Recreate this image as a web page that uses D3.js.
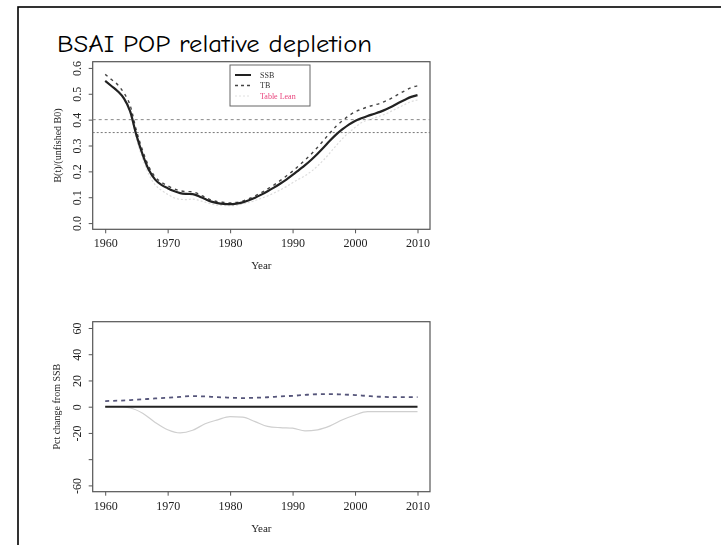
<!DOCTYPE html>
<html>
<head>
<meta charset="utf-8">
<script src="https://cdn.jsdelivr.net/npm/d3@7"></script>
<style>
  html, body { margin: 0; padding: 0; background: #fff; }
  svg { display: block; }
</style>
</head>
<body>
<svg id="chart" width="721" height="545"></svg>
<script>
// ---------------- DATA ----------------
const years = d3.range(1960, 2011);
const ssb = [0.550,0.530,0.510,0.482,0.432,0.340,0.265,0.205,0.168,0.148,
             0.135,0.124,0.116,0.113,0.112,0.104,0.093,0.083,0.077,0.074,
             0.073,0.075,0.080,0.088,0.098,0.110,0.123,0.137,0.152,0.168,
             0.186,0.205,0.224,0.245,0.268,0.293,0.319,0.343,0.363,0.381,
             0.395,0.405,0.414,0.422,0.430,0.440,0.452,0.465,0.477,0.488,0.495];
const tb  = [0.575,0.555,0.535,0.503,0.455,0.358,0.280,0.218,0.179,0.158,
             0.144,0.133,0.125,0.122,0.121,0.112,0.100,0.089,0.083,0.080,
             0.078,0.080,0.085,0.094,0.105,0.118,0.132,0.147,0.164,0.182,
             0.201,0.222,0.244,0.267,0.293,0.321,0.349,0.375,0.396,0.415,
             0.430,0.440,0.449,0.456,0.463,0.473,0.485,0.499,0.512,0.524,0.531];
const third = [0.550,0.530,0.508,0.478,0.424,0.325,0.249,0.188,0.148,0.127,
             0.111,0.098,0.092,0.091,0.093,0.088,0.081,0.074,0.069,0.068,
             0.067,0.069,0.074,0.080,0.087,0.096,0.105,0.116,0.128,0.141,
             0.156,0.170,0.183,0.200,0.221,0.245,0.272,0.300,0.327,0.350,
             0.370,0.388,0.398,0.406,0.414,0.423,0.435,0.447,0.459,0.470,0.476];
const refLines = [0.40, 0.35];

const pctYears = [1960,1962,1964,1966,1968,1970,1972,1974,1976,1978,1980,1982,1984,
                  1986,1988,1990,1992,1994,1996,1998,2000,2002,2004,2006,2008,2010];
const pctTB    = [4.3,4.6,5.0,5.6,6.3,6.8,7.5,8.1,7.8,7.3,6.9,6.6,6.8,
                  7.2,7.8,8.3,9.0,9.5,9.6,9.3,8.9,8.2,7.6,7.3,7.3,7.3];
const pctThird = [0,0,-1,-5,-12,-17.6,-20,-18,-13,-10,-7.6,-8,-11.4,
                  -15,-16,-16.4,-18.4,-17.6,-14.6,-10,-6.3,-3.8,-3.8,-3.8,-3.8,-3.8];
const pctSSB   = pctYears.map(() => 0);

const xTicks = [1960,1970,1980,1990,2000,2010];
const yTicksTop = [0.0,0.1,0.2,0.3,0.4,0.5,0.6];
const yTicksBot = [-60,-40,-20,0,20,40,60];
const yLabelsBot = {"-60":"-60","-20":"-20","0":"0","20":"20","40":"40","60":"60"};

const legendLabels = ["SSB","TB","Table Lean"];
const titleText = "BSAI POP relative depletion";

// ---------------- DRAW ----------------
const svg = d3.select("#chart");
svg.append("defs").append("filter").attr("id","soft")
   .append("feGaussianBlur").attr("stdDeviation",0.4);

// outer border
svg.append("rect").attr("x",18).attr("y",7).attr("width",760).attr("height",600)
   .attr("fill","none").attr("stroke","#000").attr("stroke-width",1.6);

// title
svg.append("text").attr("x",57).attr("y",52)
   .attr("font-family","'Comic Sans MS','Comic Neue','DejaVu Sans',sans-serif")
   .attr("font-size",25).attr("fill","#000")
   .attr("textLength",315).attr("lengthAdjust","spacingAndGlyphs")
   .text(titleText);

const g = svg.append("g").attr("filter","url(#soft)");
const L = 92.7, R = 430;
const x = d3.scaleLinear().domain([1958, 2012]).range([L, R]);

function panel(top, bottom, yDomain, yTicks, yFmt, ylab, yTitleX) {
  const y = d3.scaleLinear().domain(yDomain).range([bottom, top]);
  const p = g.append("g");
  p.append("rect").attr("x",L).attr("y",top).attr("width",R-L).attr("height",bottom-top)
   .attr("fill","#fff").attr("stroke","#555").attr("stroke-width",1.2);
  // x axis
  const xa = p.append("g").attr("transform",`translate(0,${bottom})`)
    .call(d3.axisBottom(x).tickValues(xTicks).tickSize(4).tickSizeOuter(0).tickFormat(d3.format("d")));
  xa.select(".domain").remove();
  xa.selectAll("line").attr("stroke","#555");
  xa.selectAll("text").attr("font-family","'Liberation Serif',serif").attr("font-size",12)
    .attr("fill","#222").attr("dy","0.35em").attr("y",14);
  // y axis
  const ya = p.append("g").attr("transform",`translate(${L},0)`)
    .call(d3.axisLeft(y).tickValues(yTicks).tickSize(4).tickSizeOuter(0).tickFormat(yFmt));
  ya.select(".domain").remove();
  ya.selectAll("line").attr("stroke","#555");
  ya.selectAll(".tick text").attr("font-family","'Liberation Serif',serif").attr("font-size",12)
    .attr("fill","#222").attr("text-anchor","middle").attr("x",0).attr("y",0).attr("dy",0)
    .attr("dominant-baseline","central")
    .attr("transform","translate(-16,0) rotate(-90)");
  // labels
  p.append("text").attr("x",(x(1960)+x(2010))/2).attr("y",bottom+40)
   .attr("text-anchor","middle").attr("font-family","'Liberation Serif',serif")
   .attr("font-size",11).attr("fill","#222").text("Year");
  p.append("text").attr("transform",`translate(${yTitleX},${(top+bottom)/2}) rotate(-90)`)
   .attr("text-anchor","middle").attr("dominant-baseline","central")
   .attr("font-family","'Liberation Serif',serif")
   .attr("font-size",10).attr("fill","#222").text(ylab);
  return {p, y};
}

// ---- upper panel
const up = panel(61.7, 229.3, [-0.024, 0.624], yTicksTop, d3.format(".1f"), "B(t)/(unfished B0)", 57);
const ly = d3.line().x(d => x(d[0])).y(d => up.y(d[1])).curve(d3.curveMonotoneX);
up.p.append("g").selectAll("line").data(refLines).join("line")
  .attr("x1",L).attr("x2",R).attr("y1",d=>up.y(d)).attr("y2",d=>up.y(d))
  .attr("stroke",(d,i)=> i===0 ? "#888" : "#777").attr("stroke-width",1)
  .attr("stroke-dasharray",(d,i)=> i===0 ? "3,3" : "2,2");
up.p.append("path").attr("d", ly(years.map((yr,i)=>[yr,third[i]])))
  .attr("fill","none").attr("stroke","#dcdcdc").attr("stroke-width",1.2).attr("stroke-dasharray","2,2");
up.p.append("path").attr("d", ly(years.map((yr,i)=>[yr,tb[i]])))
  .attr("fill","none").attr("stroke","#444").attr("stroke-width",1.4).attr("stroke-dasharray","3,4");
up.p.append("path").attr("d", ly(years.map((yr,i)=>[yr,ssb[i]])))
  .attr("fill","none").attr("stroke","#222").attr("stroke-width",2.2);

// legend
const lg = up.p.append("g");
lg.append("rect").attr("x",230).attr("y",65).attr("width",80).attr("height",41)
  .attr("fill","#fff").attr("stroke","#666").attr("stroke-width",1);
const legStyles = [
  {stroke:"#222", dash:null, w:2, tc:"#333"},
  {stroke:"#444", dash:"3,3", w:1.4, tc:"#333"},
  {stroke:"#e0e0e0", dash:"2,2", w:1, tc:"#e8457d"}
];
legendLabels.forEach((lab,i) => {
  const yy = 75 + i*10.5;
  lg.append("line").attr("x1",235).attr("x2",251).attr("y1",yy).attr("y2",yy)
    .attr("stroke",legStyles[i].stroke).attr("stroke-width",legStyles[i].w)
    .attr("stroke-dasharray",legStyles[i].dash);
  lg.append("text").attr("x",260).attr("y",yy).attr("dominant-baseline","central")
    .attr("font-family","'Liberation Serif',serif").attr("font-size",8)
    .attr("fill",legStyles[i].tc).text(lab);
});

// ---- lower panel
const lo = panel(321.7, 491.7, [-64.8, 64.8], yTicksBot, d => yLabelsBot[String(d)] || "", "Pct change from SSB", 56);
const ll = d3.line().x(d => x(d[0])).y(d => lo.y(d[1])).curve(d3.curveMonotoneX);
lo.p.append("path").attr("d", ll(pctYears.map((yr,i)=>[yr,pctThird[i]])))
  .attr("fill","none").attr("stroke","#cfcfcf").attr("stroke-width",1.2);
lo.p.append("path").attr("d", ll(pctYears.map((yr,i)=>[yr,pctTB[i]])))
  .attr("fill","none").attr("stroke","#55557a").attr("stroke-width",1.8).attr("stroke-dasharray","4,4");
lo.p.append("path").attr("d", ll(pctYears.map((yr,i)=>[yr,pctSSB[i]])))
  .attr("fill","none").attr("stroke","#222").attr("stroke-width",2);
</script>
</body>
</html>
